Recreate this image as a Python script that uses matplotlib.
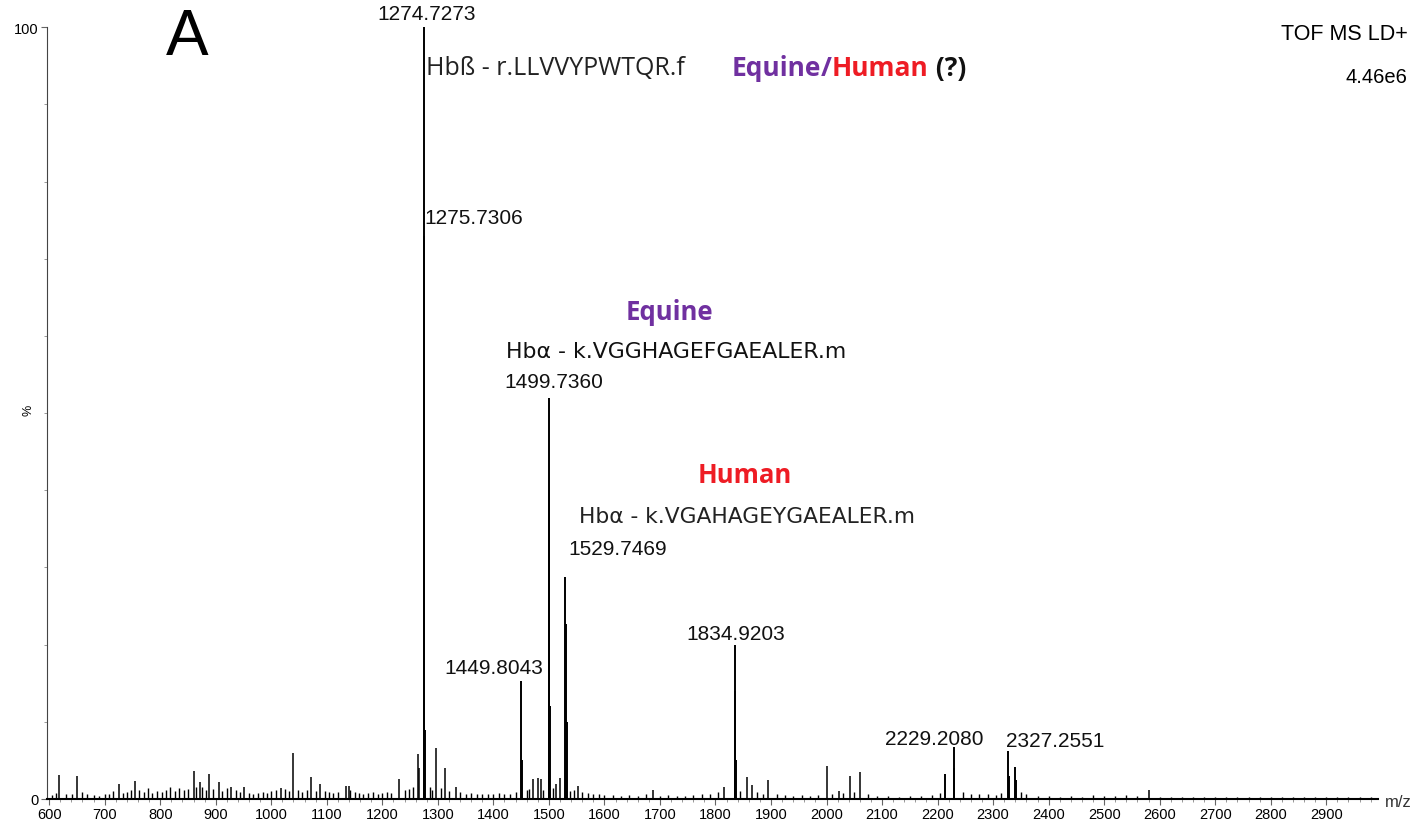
import numpy as np
import matplotlib
matplotlib.use('Agg')
import matplotlib.pyplot as plt
from matplotlib.ticker import MultipleLocator, FixedLocator

# labelled peaks and their isotopes (m/z, % of base peak)
main_mz = [1274.7273, 1275.7306, 1276.73, 1449.8043, 1450.80, 1499.7360, 1500.74, 1501.74,
           1529.7469, 1530.75, 1531.75, 1834.9203, 1835.92, 1836.92,
           2213.2, 2229.2080, 2230.21, 2327.2551, 2328.26, 2340.0, 2341.0]
main_int = [100, 73, 9, 15.3, 5, 52, 40, 12,
            28.7, 22.7, 10, 20, 14, 5,
            3.2, 6.7, 4, 6.2, 3, 4.1, 2.5]

# smaller unlabelled peaks
minor_mz = [618, 651, 725, 755, 860, 871, 887, 905, 928, 951, 1017, 1040, 1071, 1088,
            1134, 1140, 1230, 1264, 1266, 1297, 1313, 1333, 1471, 1480, 1486, 1513,
            1520, 1552, 1688, 1816, 1856, 1865, 1895, 2000, 2022, 2042, 2060, 2581]
minor_int = [3.1, 3.0, 2.0, 2.3, 3.6, 2.2, 3.3, 2.2, 1.5, 1.5, 1.4, 6.0, 2.8, 1.9,
             1.7, 1.7, 2.6, 5.8, 4.0, 6.6, 4.0, 1.5, 2.6, 2.7, 2.6, 2.0,
             2.7, 1.7, 1.1, 1.6, 2.8, 1.8, 2.4, 4.3, 1.0, 3.0, 3.5, 1.2]

# baseline chemical noise
noise_mz = [605, 612, 630, 642, 660, 668, 680, 690, 700, 708, 715, 733, 740, 748, 762,
            770, 778, 786, 795, 803, 810, 818, 826, 834, 842, 850, 865, 876, 882, 895,
            912, 920, 936, 944, 960, 968, 976, 985, 993, 1000, 1008, 1025, 1032, 1048,
            1056, 1064, 1080, 1096, 1104, 1112, 1120, 1142, 1150, 1158, 1166, 1175,
            1183, 1192, 1200, 1208, 1216, 1240, 1248, 1255, 1285, 1290, 1305, 1320,
            1340, 1350, 1360, 1370, 1380, 1390, 1400, 1410, 1420, 1430, 1440, 1460,
            1465, 1490, 1507, 1538, 1545, 1560, 1570, 1580, 1590, 1600, 1615, 1630,
            1645, 1660, 1675, 1700, 1715, 1730, 1745, 1760, 1775, 1790, 1805, 1845,
            1875, 1885, 1910, 1925, 1940, 1955, 1970, 1985, 2010, 2030, 2050, 2075,
            2090, 2110, 2130, 2150, 2170, 2190, 2205, 2245, 2260, 2275, 2290, 2305,
            2315, 2350, 2360, 2380, 2400, 2420, 2440, 2460, 2480, 2500, 2520, 2540,
            2560, 2600, 2620, 2640, 2660, 2680, 2700, 2720, 2740, 2760, 2780, 2800,
            2820, 2840, 2860, 2880, 2900, 2920, 2940, 2960, 2980]
noise_int = [0.5, 0.8, 0.6, 0.7, 0.9, 0.6, 0.5, 0.4, 0.6, 0.7, 1.0, 0.8, 0.9, 1.1, 1.2,
             0.9, 1.4, 0.8, 1.0, 0.9, 1.2, 1.5, 1.0, 1.4, 1.1, 1.3, 1.6, 1.5, 1.2, 1.3,
             1.0, 1.4, 1.1, 0.9, 0.8, 0.7, 0.8, 0.9, 0.8, 1.0, 1.1, 1.3, 1.0, 1.2,
             0.9, 1.1, 1.0, 1.0, 0.9, 0.8, 0.9, 1.1, 0.9, 0.8, 0.7, 0.8,
             0.9, 0.7, 0.8, 0.9, 0.8, 1.1, 1.3, 1.6, 1.5, 1.2, 1.4, 1.0,
             0.9, 0.7, 0.8, 0.6, 0.7, 0.6, 0.7, 0.8, 0.6, 0.7, 0.9, 1.1,
             1.3, 1.2, 1.4, 1.0, 1.1, 0.9, 0.8, 0.7, 0.6, 0.5, 0.5, 0.4,
             0.5, 0.4, 0.6, 0.4, 0.5, 0.4, 0.4, 0.5, 0.6, 0.7, 0.9, 1.0,
             0.9, 0.6, 0.7, 0.5, 0.4, 0.5, 0.4, 0.5, 0.6, 0.8, 0.9, 0.6,
             0.4, 0.4, 0.3, 0.4, 0.4, 0.5, 0.8, 0.9, 0.6, 0.7, 0.6, 0.5,
             0.8, 0.9, 0.6, 0.4, 0.4, 0.3, 0.4, 0.3, 0.5, 0.4, 0.4, 0.5,
             0.4, 0.3, 0.3, 0.3, 0.3, 0.3, 0.3, 0.3, 0.3, 0.3, 0.3, 0.3,
             0.3, 0.3, 0.3, 0.3, 0.3, 0.3, 0.3, 0.3, 0.3]

# peak labels: text, x, y (data coords)
peak_labels = [('1274.7273', 1280.5, 101.8), ('1275.7306', 1365, 75.4),
               ('1499.7360', 1508, 54.1), ('1529.7469', 1623, 32.4),
               ('1834.9203', 1836.5, 21.5), ('1449.8043', 1401, 17.1),
               ('2229.2080', 2194, 7.8), ('2327.2551', 2412, 7.6)]

purple = '#7030a0'
red = '#ee1c24'

fig = plt.figure(figsize=(14.22, 8.29), dpi=100)
ax = fig.add_axes([0.033, 0.035, 0.936, 0.931])

ax.vlines(noise_mz, 0, noise_int, color='black', lw=1.0)
ax.vlines(minor_mz, 0, minor_int, color='black', lw=1.1)
ax.vlines(main_mz, 0, main_int, color='black', lw=1.4)

ax.set_xlim(596, 2993)
ax.set_ylim(0, 100)
for s in ['top', 'right']:
    ax.spines[s].set_visible(False)
ax.spines['left'].set_color('#444444')
ax.spines['bottom'].set_linewidth(1.5)

ax.xaxis.set_major_locator(FixedLocator(np.arange(600, 3000, 100)))
ax.xaxis.set_minor_locator(MultipleLocator(20))
ax.yaxis.set_major_locator(FixedLocator([0, 100]))
ax.yaxis.set_minor_locator(MultipleLocator(10))
ax.tick_params(axis='both', which='major', length=4, width=0.8, color='#666666',
               labelsize=10.5, pad=2)
ax.tick_params(axis='both', which='minor', length=2, width=0.6, color='#888888')
for lab in ax.get_xticklabels() + ax.get_yticklabels():
    lab.set_family('Liberation Sans')
ax.set_ylabel('%', fontsize=9, family='Liberation Sans', labelpad=0)
ax.yaxis.set_label_coords(-0.009, 0.505)

for txt, x, y in peak_labels:
    ax.text(x, y, txt, ha='center', va='center', fontsize=15, family='Liberation Sans',
            color='#111111', clip_on=False)

ax.text(849, 96.5, 'A', ha='center', va='baseline', fontsize=46, family='Liberation Sans',
        clip_on=False)
fig.text(0.990, 0.958, 'TOF MS LD+', ha='right', va='center', fontsize=15.5,
         family='Liberation Sans')
fig.text(0.990, 0.906, '4.46e6', ha='right', va='center', fontsize=14.5,
         family='Liberation Sans')
fig.text(0.974, 0.032, 'm/z', ha='left', va='center', fontsize=12,
         family='Liberation Sans', color='#333333')

ax.text(1278.7, 94.8, 'Hbß - r.LLVVYPWTQR.f', ha='left', va='center', fontsize=18,
        family='Open Sans', color='#222222')
ax.text(1717, 63.2, 'Equine', ha='center', va='center', fontsize=18.5, family='Open Sans',
        weight='bold', color=purple)
ax.text(1423, 58.0, 'Hbα - k.VGGHAGEFGAEALER.m', ha='left', va='center', fontsize=15.8,
        family='DejaVu Sans', color='#111111')
ax.text(1853, 42.1, 'Human', ha='center', va='center', fontsize=18.5, family='Open Sans',
        weight='bold', color=red)
ax.text(1555, 36.7, 'Hbα - k.VGAHAGEYGAEALER.m', ha='left', va='center', fontsize=15.7,
        family='DejaVu Sans', color='#222222')

# multi-coloured heading, pieces placed one after another
pieces = [('Equine', purple), ('/', purple), ('Human', red), (' (?)', '#111111')]
fig.canvas.draw()
renderer = fig.canvas.get_renderer()
x_disp, y_disp = ax.transData.transform((1829, 94.8))
for txt, col in pieces:
    t = fig.text(x_disp / fig.bbox.width, y_disp / fig.bbox.height, txt, ha='left',
                 va='center', fontsize=19, family='Open Sans', weight='bold', color=col)
    bb = t.get_window_extent(renderer)
    x_disp = bb.x1

fig.savefig('out.png', dpi=100)
